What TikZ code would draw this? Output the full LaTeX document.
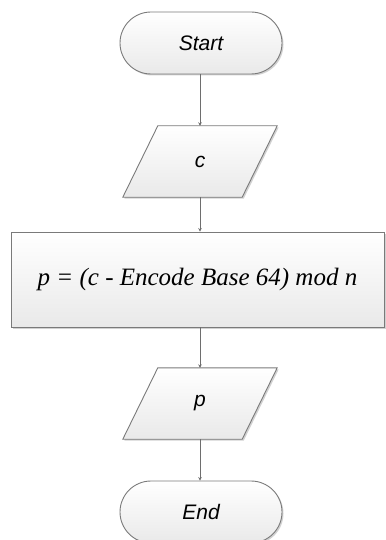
\documentclass[tikz,border=0pt]{standalone}
\usepackage{fontspec}
\setmainfont{Liberation Sans}
\newfontfamily\serifit{Liberation Serif}[ItalicFont=* Italic]
\usetikzlibrary{shadows,arrows.meta,calc}
\definecolor{edgegray}{HTML}{7A7A7A}
\definecolor{linegray}{HTML}{6E6E6E}
\definecolor{fillbot}{HTML}{E9E9E9}
\tikzset{
  boxfill/.style={draw=edgegray, line width=0.9pt, top color=white, bottom color=fillbot,
    drop shadow={shadow xshift=1.5pt, shadow yshift=-1.5pt, opacity=0.18, fill=black}},
  labelfont/.style={font=\itshape\fontsize{21}{25}\selectfont},
  terminal/.style={boxfill, labelfont, rectangle, rounded corners=31pt, minimum width=162pt,
    minimum height=62pt, inner sep=0pt},
  iobox/.style={rectangle, draw=none, minimum width=154pt, minimum height=71pt, inner sep=0pt},
  procbox/.style={boxfill, rectangle, minimum width=373pt, minimum height=95pt, inner sep=0pt,
    font=\serifit\itshape\fontsize{25}{29}\selectfont},
  flow/.style={draw=linegray, line width=0.8pt, -{Stealth[length=3.5pt,width=3.5pt]}},
}
\begin{document}
\begin{tikzpicture}[x=1pt,y=-1pt]
\useasboundingbox (0,0) rectangle (385,540);
% terminals and process
\node[terminal] (start) at (201,43) {Start};
\node[iobox] (cin) at (200,161.5) {};
\node[procbox] (calc) at (197.5,279.5) {p = (c - Encode Base 64) mod n};
\node[iobox] (pout) at (200,403.5) {};
\node[terminal] (end) at (201,512) {End};
% parallelogram outlines for input and output
\foreach \n/\lbl in {cin/c, pout/p}{
  \path[boxfill] (\n.south west) -- ($(\n.south east)+(-35,0)$) -- (\n.north east)
    -- ($(\n.north west)+(35,0)$) -- cycle;
  \node[labelfont] (\n-text) at (\n.center) {\lbl};
}
% connectors
\draw[flow] (start.south -| cin.north) -- (cin.north);
\draw[flow] (cin.south) -- (cin.south |- calc.north);
\draw[flow] (calc.south -| pout.north) -- (pout.north);
\draw[flow] (pout.south) -- (pout.south |- end.north);
\end{tikzpicture}
\end{document}
